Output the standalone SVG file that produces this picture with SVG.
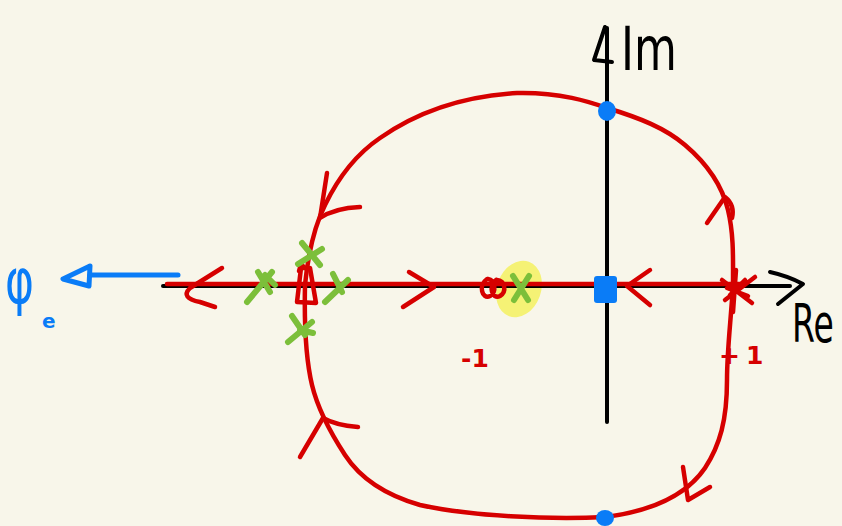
<svg xmlns="http://www.w3.org/2000/svg" width="842" height="526" viewBox="0 0 842 526">
<style>
.red{fill:none;stroke:#d60000;stroke-width:4.5;stroke-linecap:round;stroke-linejoin:round}
.blk{fill:none;stroke:#000;stroke-width:4;stroke-linecap:round;stroke-linejoin:round}
.grn{fill:none;stroke:#7cbf3a;stroke-width:6;stroke-linecap:round;stroke-linejoin:round}
.blu{fill:none;stroke:#0a7cf7;stroke-width:5;stroke-linecap:round;stroke-linejoin:round}
.hand{font-family:"DejaVu Sans","Liberation Sans",sans-serif}
</style>
<rect width="842" height="526" fill="#f8f6ea"/>
<g id="highlight">
<ellipse cx="519" cy="289" rx="22" ry="29" transform="rotate(20 519 289)" fill="#f5f275"/>
</g>
<g id="axes">
<path class="blk" d="M163,286 L790,286"/>
<path class="blk" d="M770,272 Q788,276 803,284 L778,304"/>
<path class="blk" d="M607,422 L607,28"/>
<path class="blk" d="M605,27 L594,60 L612,62"/>
<text class="hand" x="0" y="0" font-size="44" fill="#000" transform="translate(621,70) scale(1,1.36)">Im</text>
<text class="hand" x="0" y="0" font-size="33" fill="#000" transform="translate(792,342) scale(1,1.6)">Re</text>
</g>
<g id="connectors">
<path class="red" d="M167,284 L745,284"/>
<path class="red" d="M305,285 C308,255 315,225 325,205 C338,178 355,155 380,138 C420,110 465,96 517,93 C560,92 590,102 607,108 C640,118 665,128 685,145 C705,162 722,185 728,210 C734,235 733,260 733,285"/>
<path class="red" d="M733,285 C731,320 727,350 727,380 C727,420 720,445 705,468 C690,490 660,510 605,517 C550,520 470,516 420,505 C385,495 360,478 345,455 C330,432 318,410 312,385 C306,360 304,330 305,285"/>
<path class="red" d="M222,268 L190,288 Q180,298 200,302 L215,307"/>
<path class="red" d="M409,272 L434,287 L403,307"/>
<path class="red" d="M650,270 L627,286 L650,305"/>
<path class="red" d="M327,173 L320,218 Q335,208 360,207"/>
<path class="red" d="M300,457 L323,418 Q335,425 358,427"/>
<path class="red" d="M707,223 L725,197 Q735,205 732,218"/>
<path class="red" d="M683,467 L688,500 L710,487"/>
<path class="red" d="M301,268 L297,302 L316,303 L310,268 Z M299,271 L301,264 L305,268"/>
<path class="red" d="M722,280 L752,303 M725,300 L755,277 M736,270 L733,312 M727,288 L748,296 M730,295 L745,280"/>
<path class="red" d="M487,279 C478,285 482,300 490,296 C497,292 495,280 488,279 M496,280 C488,286 492,300 500,296 C507,292 505,280 497,280"/>
<text x="461" y="367" font-size="25" font-weight="bold" fill="#d60000" class="hand">-1</text>
<text x="719" y="364" font-size="25" font-weight="bold" fill="#d60000" class="hand" letter-spacing="6">+1</text>
</g>
<g id="zeros-poles">
<path class="grn" d="M247,302 L272,272 M258,272 L270,292 M265,275 L275,285"/>
<path class="grn" d="M302,243 L320,265 M322,249 L298,264"/>
<path class="grn" d="M333,274 L342,292 M325,302 L348,280"/>
<path class="grn" d="M292,316 L305,335 M288,342 L312,322 M300,330 L313,333"/>
<path class="grn" d="M513,276 L528,300 M529,276 L514,300"/>
</g>
<g id="blue-points">
<ellipse cx="607" cy="111" rx="9" ry="10" fill="#0a7cf7"/>
<ellipse cx="605" cy="518" rx="9" ry="8" fill="#0a7cf7"/>
<rect x="594" y="276" width="23" height="27" rx="3" fill="#0a7cf7"/>
</g>
<g id="phi-arrow">
<path class="blu" d="M178,275 L90,275"/>
<path class="blu" d="M90,266 L63,279 L89,286 Z"/>
<text x="0" y="0" font-size="44" fill="#0a7cf7" class="hand" transform="translate(5,303) scale(1,1.4)">φ</text>
<text x="42" y="328" font-size="20" font-weight="bold" fill="#0a7cf7" class="hand">e</text>
</g>
</svg>
